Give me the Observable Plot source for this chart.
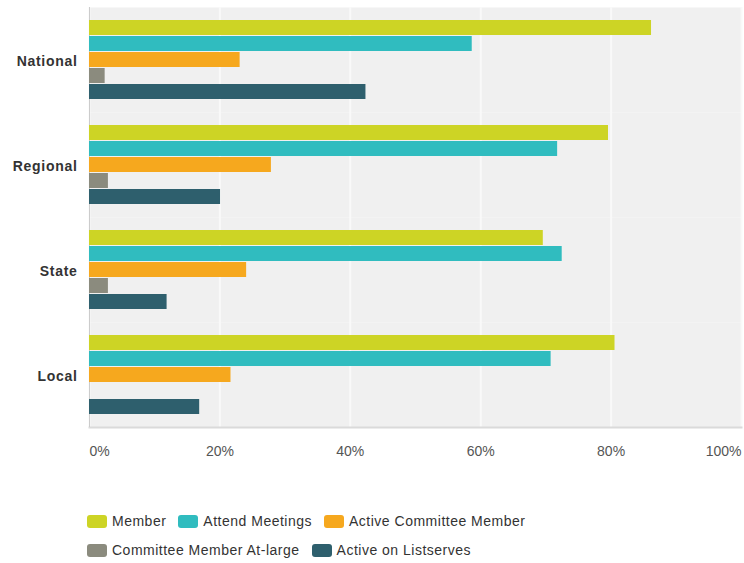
<!DOCTYPE html>
<html>
<head>
<meta charset="utf-8">
<script src="https://cdn.jsdelivr.net/npm/d3@7"></script>
<script src="https://cdn.jsdelivr.net/npm/@observablehq/plot@0.6"></script>
<style>
  body { margin: 0; background: #fff; font-family: "Liberation Sans", Arial, sans-serif; }
  #chart svg [aria-label="fy-axis tick label"] text { letter-spacing: 0.7px; }
  #legend { margin: 42px 0 0 87px; width: 460px; display: flex; flex-wrap: wrap; row-gap: 11px;
            font-size: 14px; color: #333; line-height: 18px; letter-spacing: 0.5px; }
  #legend .item { display: flex; align-items: center; margin-right: 12px; white-space: nowrap; }
  #legend .sw { width: 20px; height: 13px; border-radius: 3px; margin-right: 5px; }
</style>
</head>
<body>
<div id="chart"></div>
<div id="legend"></div>
<script>
const categories = ["National", "Regional", "State", "Local"];
const seriesNames = ["Member", "Attend Meetings", "Active Committee Member", "Committee Member At-large", "Active on Listserves"];
const member = [86.2, 79.6, 69.6, 80.6];
const attendMeetings = [58.7, 71.8, 72.5, 70.8];
const activeCommittee = [23.1, 27.9, 24.1, 21.7];
const committeeAtLarge = [2.4, 2.9, 2.9, 0];
const activeListserves = [42.4, 20.1, 11.9, 16.9];
const xTicks = [0, 20, 40, 60, 80, 100];
const colors = ["#cdd425", "#30bcbf", "#f6a81e", "#8b8b7e", "#2e5f6d"];

const seriesValues = [member, attendMeetings, activeCommittee, committeeAtLarge, activeListserves];
const rows = [];
categories.forEach((c, i) => {
  seriesNames.forEach((s, j) => rows.push({category: c, series: s, value: seriesValues[j][i]}));
});

const pct = d => d + "%";
const tickStyle = {anchor: "bottom", tickSize: 0, tickPadding: 19, fill: "#555", fontSize: 14, tickFormat: pct, label: null};

const chart = Plot.plot({
  width: 744,
  height: 470,
  marginLeft: 89,
  marginRight: 3,
  marginTop: 7,
  marginBottom: 43,
  style: {fontFamily: "'Liberation Sans', Arial, sans-serif", fontSize: "14px", background: "transparent"},
  x: {domain: [0, 100], axis: null},
  fy: {domain: categories, padding: 0, axis: null},
  y: {domain: seriesNames, paddingInner: 0.06, paddingOuter: 0.7, axis: null},
  color: {domain: seriesNames, range: colors},
  marks: [
    Plot.frame({fill: "#f0f0f0", stroke: "none"}),
    Plot.gridX(xTicks, {stroke: "#f9f9f9", strokeOpacity: 1, strokeWidth: 2}),
    Plot.frame({anchor: "bottom", stroke: "#dadada", strokeWidth: 2, facetAnchor: "bottom"}),
    Plot.ruleX([0], {stroke: "#cccccc"}),
    Plot.barX(rows, {x: "value", y: "series", fy: "category", fill: "series"}),
    Plot.axisFy({anchor: "left", tickSize: 0, tickPadding: 12, dy: 2, fontWeight: "bold", fontSize: 14, fill: "#333", label: null}),
    Plot.axisX([xTicks[0]], {...tickStyle, textAnchor: "start"}),
    Plot.axisX(xTicks.slice(1, -1), {...tickStyle, textAnchor: "middle"}),
    Plot.axisX([xTicks[xTicks.length - 1]], {...tickStyle, textAnchor: "end"})
  ]
});
document.getElementById("chart").append(chart);

const legend = document.getElementById("legend");
seriesNames.forEach((s, i) => {
  const item = document.createElement("div");
  item.className = "item";
  const sw = document.createElement("span");
  sw.className = "sw";
  sw.style.background = colors[i];
  const label = document.createElement("span");
  label.textContent = s;
  item.append(sw, label);
  legend.append(item);
});
</script>
</body>
</html>
